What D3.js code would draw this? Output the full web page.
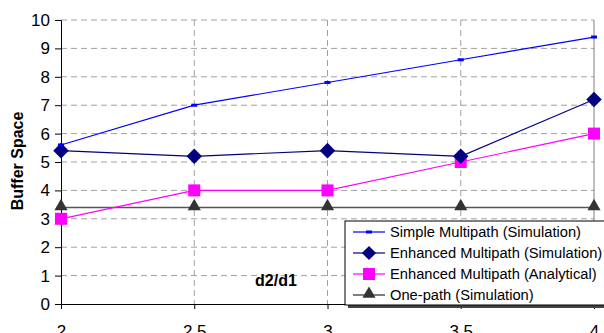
<!DOCTYPE html>
<html>
<head>
<meta charset="utf-8">
<script src="https://cdn.jsdelivr.net/npm/d3@7"></script>
<style>
body { margin: 0; background: #fff; overflow: hidden; }
text { font-family: "Liberation Sans", Arial, sans-serif; }
</style>
</head>
<body>
<div id="chart"></div>
<script>
var ratios = [2, 2.5, 3, 3.5, 4];
var simpleSim = [5.6, 7.0, 7.8, 8.6, 9.4];
var enhancedSim = [5.4, 5.2, 5.4, 5.2, 7.2];
var enhancedAna = [3, 4, 4, 5, 6];
var onePath = [3.4, 3.4, 3.4, 3.4, 3.4];
var yTicks = [0, 1, 2, 3, 4, 5, 6, 7, 8, 9, 10];
var seriesNames = ["Simple Multipath (Simulation)", "Enhanced Multipath (Simulation)",
    "Enhanced Multipath (Analytical)", "One-path (Simulation)"];

function init() {
    var w = 604, h = 333;
    var svg = d3.select("#chart").append("svg")
        .attr("width", w).attr("height", h);

    var xScale = d3.scaleLinear().domain([2, 4]).range([61, 594]);
    var yScale = d3.scaleLinear().domain([0, 10]).range([304, 20]);

    // grid
    svg.append("g").selectAll("line")
        .data(yTicks.slice(1))
        .enter().append("line")
        .attr("x1", xScale(2)).attr("x2", xScale(4))
        .attr("y1", function (d) { return yScale(d); })
        .attr("y2", function (d) { return yScale(d); })
        .attr("stroke", "#a0a0a0").attr("stroke-dasharray", "6,4");
    svg.append("g").selectAll("line")
        .data(ratios.slice(1, 4))
        .enter().append("line")
        .attr("x1", function (d) { return xScale(d); })
        .attr("x2", function (d) { return xScale(d); })
        .attr("y1", yScale(10)).attr("y2", yScale(0))
        .attr("stroke", "#a0a0a0").attr("stroke-dasharray", "6,4");
    svg.append("line")
        .attr("x1", xScale(4)).attr("x2", xScale(4))
        .attr("y1", yScale(10)).attr("y2", yScale(0))
        .attr("stroke", "#808080");

    // axes
    var yAxis = d3.axisLeft(yScale).tickValues(yTicks).tickSize(6).tickPadding(5);
    var gy = svg.append("g").attr("transform", "translate(" + xScale(2) + ",0)").call(yAxis);
    gy.select(".domain").attr("stroke", "#000");
    gy.selectAll("text").style("font-size", "17px").attr("fill", "#000");

    var xAxis = d3.axisBottom(xScale).tickValues(ratios).tickSize(5).tickPadding(16)
        .tickFormat(function (d) { return d; });
    var gx = svg.append("g").attr("transform", "translate(0," + yScale(0) + ")").call(xAxis);
    gx.select(".domain").attr("stroke", "#000");
    gx.selectAll("text").style("font-size", "17px").attr("fill", "#000");

    var line = d3.line()
        .x(function (d, i) { return xScale(ratios[i]); })
        .y(function (d) { return yScale(d); });

    // one-path
    svg.append("path").datum(onePath).attr("d", line)
        .attr("fill", "none").attr("stroke", "#555").attr("stroke-width", 1.5);
    var tri = d3.symbol().type(d3.symbolTriangle).size(75);
    svg.selectAll(null).data(onePath).enter().append("path")
        .attr("d", tri)
        .attr("transform", function (d, i) { return "translate(" + xScale(ratios[i]) + "," + (yScale(d) - 1) + ")"; })
        .attr("fill", "#333");

    // analytical
    svg.append("path").datum(enhancedAna).attr("d", line)
        .attr("fill", "none").attr("stroke", "#ff00ff").attr("stroke-width", 1.2);
    svg.selectAll(null).data(enhancedAna).enter().append("rect")
        .attr("x", function (d, i) { return xScale(ratios[i]) - 6; })
        .attr("y", function (d) { return yScale(d) - 6; })
        .attr("width", 12).attr("height", 12)
        .attr("fill", "#ff00ff");

    // enhanced simulation
    svg.append("path").datum(enhancedSim).attr("d", line)
        .attr("fill", "none").attr("stroke", "#000080").attr("stroke-width", 1.2);
    svg.selectAll(null).data(enhancedSim).enter().append("rect")
        .attr("x", -5.5).attr("y", -5.5).attr("width", 11).attr("height", 11)
        .attr("transform", function (d, i) { return "translate(" + xScale(ratios[i]) + "," + yScale(d) + ") rotate(45)"; })
        .attr("fill", "#000080");

    // simple simulation
    svg.append("path").datum(simpleSim).attr("d", line)
        .attr("fill", "none").attr("stroke", "#0000ff").attr("stroke-width", 1.2);
    svg.selectAll(null).data(simpleSim).enter().append("rect")
        .attr("x", function (d, i) { return xScale(ratios[i]) - 3; })
        .attr("y", function (d) { return yScale(d) - 1.5; })
        .attr("width", 6).attr("height", 3)
        .attr("fill", "#0000ff");

    // labels
    svg.append("text")
        .attr("transform", "translate(23,161) rotate(-90)")
        .attr("text-anchor", "middle")
        .style("font-size", "16px").style("font-weight", "bold")
        .text("Buffer Space");
    svg.append("text")
        .attr("x", 276).attr("y", 286)
        .attr("text-anchor", "middle")
        .style("font-size", "16px").style("font-weight", "bold")
        .text("d2/d1");

    // legend
    var lg = svg.append("g").attr("transform", "translate(345,221)");
    lg.append("rect").attr("x", 3).attr("y", 3).attr("width", 262).attr("height", 84)
        .attr("fill", "#444");
    lg.append("rect").attr("width", 262).attr("height", 84)
        .attr("fill", "#fff").attr("stroke", "#000").attr("stroke-width", 1);
    var colors = ["#0000ff", "#000080", "#ff00ff", "#555"];
    seriesNames.forEach(function (name, i) {
        var yy = 11 + i * 21;
        lg.append("line").attr("x1", 8).attr("x2", 40).attr("y1", yy).attr("y2", yy)
            .attr("stroke", colors[i]).attr("stroke-width", i === 3 ? 1.5 : 1.2);
        var cx = 24;
        if (i === 0) {
            lg.append("rect").attr("x", cx - 3).attr("y", yy - 1.5).attr("width", 6).attr("height", 3).attr("fill", colors[i]);
        } else if (i === 1) {
            lg.append("rect").attr("x", -5).attr("y", -5).attr("width", 10).attr("height", 10)
                .attr("transform", "translate(" + cx + "," + yy + ") rotate(45)").attr("fill", colors[i]);
        } else if (i === 2) {
            lg.append("rect").attr("x", cx - 6).attr("y", yy - 6).attr("width", 12).attr("height", 12).attr("fill", colors[i]);
        } else {
            lg.append("path").attr("d", tri).attr("transform", "translate(" + cx + "," + (yy - 1) + ")").attr("fill", "#333");
        }
        lg.append("text").attr("x", 45).attr("y", yy + 5)
            .style("font-size", "14.7px").text(name);
    });
}

window.onload = init;
</script>
</body>
</html>
